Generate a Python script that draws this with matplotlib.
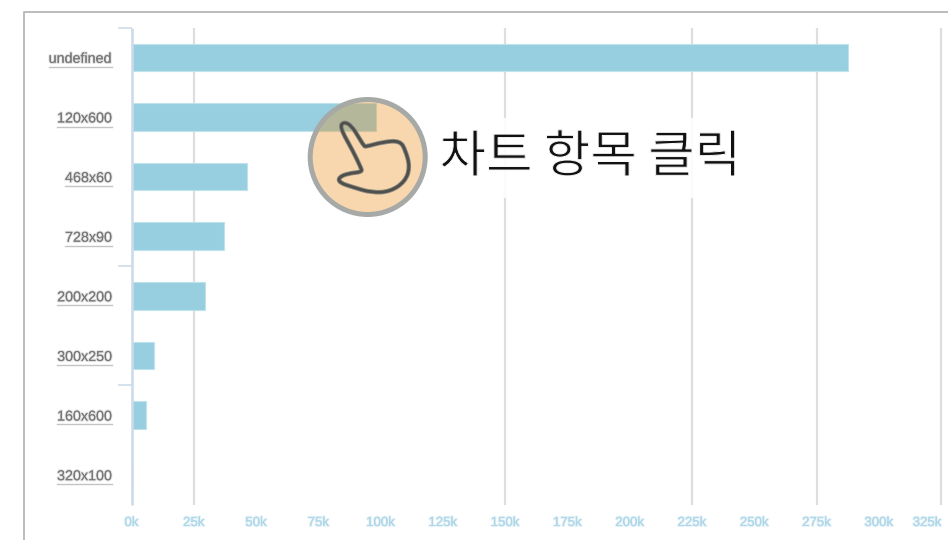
import matplotlib
matplotlib.use("Agg")
import matplotlib.pyplot as plt
import matplotlib.patheffects as pe
from matplotlib.patches import Circle, Rectangle, PathPatch
from matplotlib.path import Path
from matplotlib.lines import Line2D
from matplotlib.transforms import ScaledTranslation

categories = ["undefined", "120x600", "468x60", "728x90", "200x200", "300x250", "160x600", "320x100"]
values = [287.5, 98, 46.5, 37, 29.5, 9, 6, 0.2]
tick_values = [0, 25, 50, 75, 100, 125, 150, 175, 200, 225, 250, 275, 300, 325]
tick_labels = ["0k", "25k", "50k", "75k", "100k", "125k", "150k", "175k", "200k", "225k", "250k", "275k", "300k", "325k"]
grid_values = [25, 150, 225, 275, 325]
axis_tick_rows = [-0.5, 3.5, 5.5]
annotation = "차트 항목 클릭"

W, H = 948, 540
fig = plt.figure(figsize=(W / 100, H / 100), dpi=100, facecolor="white")

L, R, T, B = 131.5, 948, 27.5, 504.5
ax = fig.add_axes([L / W, 1 - B / H, (R - L) / W, (B - T) / H])
ax.set_xlim(0, (R - L) / 2.491)
ax.set_ylim(7.5, -0.5)
for s in ax.spines.values():
    s.set_visible(False)

# gridlines, bars
px = 0.72
ax.vlines(grid_values, -0.5, 7.5, color="#dedede", lw=2.2 * px, zorder=1, clip_on=False)
ax.vlines([0], -0.5, 7.5, color="#cddaea", lw=2.6 * px, zorder=3, clip_on=False)
ax.barh(range(len(values)), values, height=0.46, color="#97cfe0",
        edgecolor="#bfe2ec", linewidth=0.8, zorder=2)

# category ticks at the band edges
ax.hlines(axis_tick_rows, -14 / 2.491, 0, color="#cddaea", lw=1.6 * px, zorder=3, clip_on=False)

# y labels
fuzz_dark = [pe.withStroke(linewidth=1.6, foreground="#aaaaaa55")]
ax.set_yticks(range(len(categories)))
ax.set_yticklabels(categories, family="Liberation Sans", fontsize=10.3, color="#777777",
                   path_effects=fuzz_dark)
ax.tick_params(axis="y", length=0, pad=14.2)

# x labels
fuzz_blue = [pe.withStroke(linewidth=1.6, foreground="#a5d3e544")]
ax.set_xticks(tick_values)
ax.set_xticklabels(tick_labels, family="Liberation Sans", fontsize=9.5, color="#aed7e8",
                   path_effects=fuzz_blue)
ax.tick_params(axis="x", length=0, pad=9)
last = ax.get_xticklabels()[-1]
last.set_transform(last.get_transform() + ScaledTranslation(-14 / 100, 0, fig.dpi_scale_trans))

# overlay in pixel coordinates
ov = fig.add_axes([0, 0, 1, 1], facecolor="none")
ov.set_xlim(0, W)
ov.set_ylim(H, 0)
ov.axis("off")

ov.add_line(Line2D([24, 24, W], [H, 11.5, 11.5], color="#bdbdbd", lw=2 * px))

# underlines of the category labels
for i in range(len(categories)):
    lbl = ax.get_yticklabels()[i]
    bb = lbl.get_window_extent(fig.canvas.get_renderer())
    y = 59 + i * 59.5 + 8
    ov.add_line(Line2D([bb.x0, 112], [y, y], color="#c4c4c4", lw=1.4 * px))

# text backdrop
ov.add_patch(Rectangle((428, 118), 318, 80, facecolor="white", alpha=0.9, edgecolor="none", zorder=2))
ov.text(439.5, 158, annotation, family=["Noto Sans CJK KR", "DejaVu Sans"], fontsize=36.4, weight="light",
        color="#111111", ha="left", va="center", zorder=3,
        path_effects=[pe.Normal(), pe.Stroke(linewidth=0.7, foreground="white")])

# hand badge
cx, cy = 367.7, 157
ov.add_patch(Circle((cx, cy), 57.5, facecolor=(0.933, 0.553, 0.094, 0.35), edgecolor="#a6a9a6",
                    lw=5 * px, zorder=4))

# hand outline, rounded through the midpoints of its guide points
z = [(148, 140), (163, 125), (185, 138), (205, 170), (222, 198), (228, 200), (278, 186), (330, 182),
     (347, 212), (360, 262), (345, 305), (300, 335), (245, 338), (190, 322), (148, 308), (146, 292),
     (175, 280), (217, 276), (212, 262), (190, 215)]
g = [(290 + x / 3, 80 + y / 3) for x, y in z]
mid = [((a[0] + b[0]) / 2, (a[1] + b[1]) / 2) for a, b in zip(g, g[1:] + g[:1])]
verts, codes = [mid[-1]], [Path.MOVETO]
for p, m in zip(g, mid):
    verts += [p, m]
    codes += [Path.CURVE3, Path.CURVE3]
hand = Path(verts, codes)
ov.add_patch(PathPatch(hand, facecolor="none", edgecolor="#8a8a80", lw=4.6 * px, joinstyle="round", zorder=5))
ov.add_patch(PathPatch(hand, facecolor="none", edgecolor="#4f4f4c", lw=2.8 * px, joinstyle="round", zorder=6))

fig.savefig("out.png", dpi=100)
